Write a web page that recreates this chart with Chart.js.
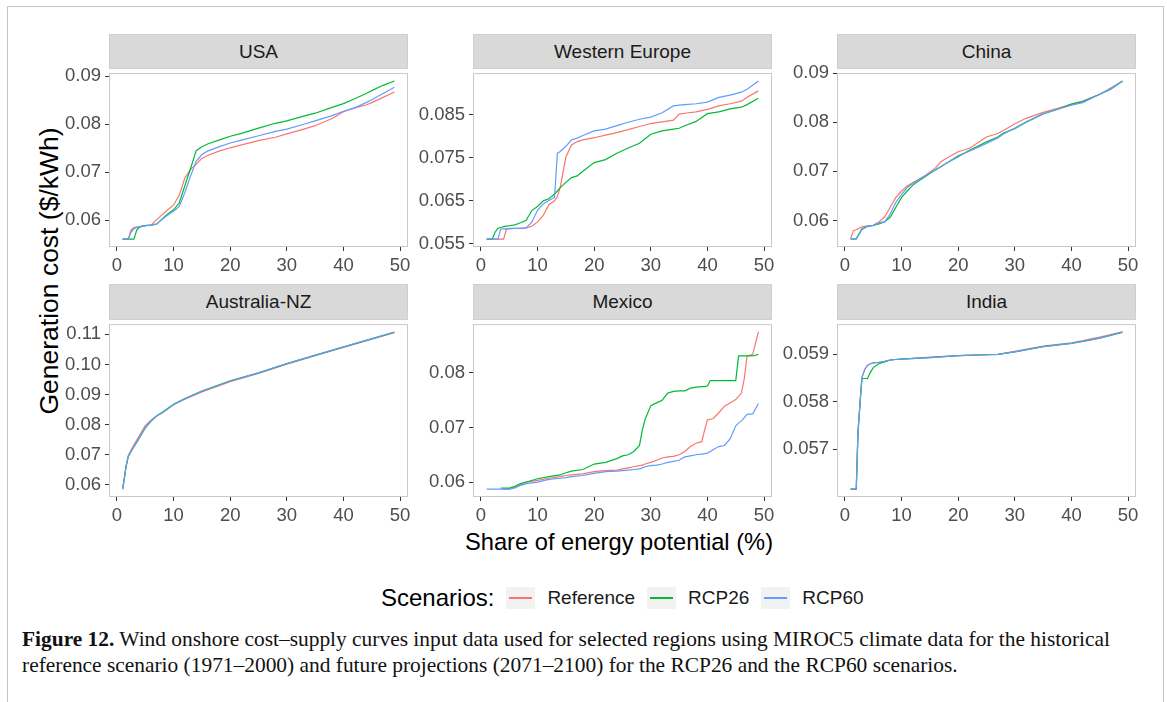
<!DOCTYPE html>
<html>
<head>
<meta charset="utf-8">
<title>Wind onshore cost-supply curves</title>
<script src="https://cdn.jsdelivr.net/npm/chart.js@4.4.0/dist/chart.umd.min.js"></script>
<style>
  html, body { margin: 0; padding: 0; background: #fff; }
  body { width: 1167px; height: 702px; position: relative; overflow: hidden;
         font-family: "Liberation Sans", Arial, sans-serif; }
  .frame { position: absolute; left: 7px; top: 6px; width: 1155px; height: 720px;
           border: 1.5px solid #c4c4c4; border-bottom: none; }
  .strip { position: absolute; background: #d9d9d9; border: 1px solid #cfcfcf; box-sizing: border-box;
           color: #1a1a1a; font-size: 19px; display: flex; align-items: center; justify-content: center; }
  canvas.panel { position: absolute; }
  #ytitle { position: absolute; left: 49px; top: 271px; transform: translate(-50%, -50%) rotate(-90deg);
            font-size: 26.5px; color: #000; white-space: nowrap; }
  #xtitle { position: absolute; left: 619px; top: 542px; transform: translate(-50%, -50%);
            font-size: 23.7px; color: #000; white-space: nowrap; }
  #legend { position: absolute; left: 381px; top: 585px; height: 26px; display: flex; align-items: center; }
  #legend .title { font-size: 24px; color: #000; margin-right: 12px; }
  #legend .key { flex: none; width: 29px; height: 22px; background-color: #f2f2f2; margin-right: 12px;
                 display: flex; align-items: center; justify-content: center; }
  #legend .line { flex: none; width: 23px; height: 2px; }
  #legend .lab { font-size: 19px; color: #1a1a1a; margin-right: 12px; }
  #caption { position: absolute; left: 22px; top: 626px; font-family: "Liberation Serif", "Times New Roman", serif;
             font-size: 21px; line-height: 26px; color: #111; white-space: nowrap; transform-origin: 0 0; }
  #caption b { font-weight: bold; }
</style>
</head>
<body>
<div class="frame"></div>
<div id="ytitle">Generation cost ($/kWh)</div>
<div id="xtitle">Share of energy potential (%)</div>
<div id="legend"></div>
<div id="caption">
  <div id="capLine1"><span id="capText1"><b>Figure 12.</b> Wind onshore cost–supply curves input data used for selected regions using MIROC5 climate data for the historical</span></div>
  <div>reference scenario (1971–2000) and future projections (2071–2100) for the RCP26 and the RCP60 scenarios.</div>
</div>
<script>
// scenarios
const scenarioNames = ['Reference', 'RCP26', 'RCP60'];
const scenarioColors = ['#F8766D', '#00BA38', '#619CFF'];
const shareTicks = [0, 10, 20, 30, 40, 50];

// USA
const usaShare = [1, 2, 2.5, 3, 3.5, 4, 5, 6, 7, 8, 9, 10, 11, 12, 13, 14, 15, 16, 18, 20, 22, 25, 28, 30, 33, 35, 38, 40, 42, 44, 45, 47, 49];
const usaReference = [.0561, .0561, .0580, .0585, .0586, .0587, .0589, .0590, .0601, .0612, .0622, .0632, .0652, .0688, .0706, .0717, .0729, .0735, .0744, .0751, .0757, .0766, .0773, .0780, .0790, .0797, .0812, .0826, .0834, .0840, .0845, .0856, .0867];
const usaRcp26 = [.0561, .0561, .0561, .0561, .0580, .0586, .0589, .0590, .0592, .0603, .0614, .0622, .0636, .0672, .0708, .0745, .0753, .0759, .0767, .0775, .0781, .0792, .0802, .0807, .0817, .0823, .0835, .0843, .0853, .0864, .0870, .0881, .0890];
const usaRcp60 = [.0561, .0561, .0575, .0583, .0585, .0587, .0589, .0590, .0592, .0602, .0611, .0619, .0629, .0658, .0692, .0723, .0737, .0744, .0753, .0761, .0767, .0776, .0785, .0790, .0800, .0807, .0818, .0827, .0834, .0845, .0851, .0864, .0877];
const usaTicks = ['0.06', '0.07', '0.08', '0.09'];

// Western Europe
const weShare = [1, 2, 2.5, 3, 3.5, 4, 4.5, 5, 6, 7, 8, 9, 10, 11, 12, 13, 13.5, 14, 15, 16, 17, 18, 20, 22, 24, 26, 28, 30, 32, 34, 35, 36, 38, 40, 42, 44, 46, 47, 49];
const weReference = [.0561, .0561, .0561, .0561, .0561, .0561, .0584, .0585, .0586, .0586, .0587, .0591, .0601, .0616, .0641, .0650, .0660, .0681, .0752, .0780, .0788, .0792, .0797, .0803, .0809, .0816, .0823, .0830, .0834, .0838, .0852, .0854, .0857, .0863, .0871, .0876, .0882, .0891, .0906];
const weRcp26 = [.0561, .0561, .0577, .0586, .0588, .0590, .0591, .0592, .0594, .0599, .0605, .0628, .0637, .0650, .0655, .0666, .0673, .0681, .0693, .0704, .0708, .0719, .0739, .0746, .0761, .0773, .0784, .0805, .0813, .0817, .0819, .0825, .0835, .0853, .0857, .0864, .0868, .0874, .0889];
const weRcp60 = [.0561, .0561, .0561, .0561, .0584, .0585, .0585, .0586, .0586, .0586, .0587, .0601, .0628, .0643, .0651, .0658, .0761, .0765, .0777, .0792, .0796, .0802, .0813, .0817, .0825, .0833, .0840, .0845, .0855, .0871, .0873, .0874, .0876, .0880, .0891, .0896, .0903, .0910, .0929];
const weTicks = ['0.055', '0.065', '0.075', '0.085'];

// China
const chinaShare = [1, 1.5, 2, 3, 4, 5, 6, 7, 8, 9, 10, 11, 12, 14, 16, 17, 18, 20, 22, 25, 27, 28, 30, 32, 35, 38, 40, 42, 45, 47, 49];
const chinaReference = [.0563, .0579, .0581, .0587, .0589, .0590, .0597, .0607, .0627, .0647, .0660, .0670, .0677, .0690, .0707, .0720, .0727, .0740, .0747, .0770, .0777, .0783, .0797, .0808, .0820, .0830, .0837, .0843, .0857, .0870, .0883];
const chinaRcp26 = [.0562, .0562, .0563, .0583, .0588, .0590, .0593, .0597, .0607, .0627, .0647, .0660, .0672, .0688, .0703, .0710, .0717, .0730, .0743, .0760, .0770, .0778, .0787, .0800, .0817, .0828, .0837, .0842, .0857, .0868, .0884];
const chinaRcp60 = [.0562, .0562, .0562, .0581, .0588, .0590, .0595, .0597, .0613, .0637, .0653, .0667, .0675, .0690, .0703, .0710, .0717, .0732, .0741, .0757, .0768, .0776, .0788, .0801, .0817, .0828, .0835, .0840, .0857, .0868, .0884];
const chinaTicks = ['0.06', '0.07', '0.08', '0.09'];

// Australia-NZ
const ausShare = [1, 1.3, 1.6, 2, 2.5, 3, 4, 5, 6, 7, 8, 10, 12, 15, 20, 25, 30, 35, 40, 45, 49];
const ausReference = [.0586, .0622, .0662, .0697, .0716, .0733, .0765, .0797, .0815, .0829, .0839, .0866, .0885, .0909, .0943, .0970, .1001, .1029, .1057, .1084, .1106];
const ausRcp26 = [.0586, .0620, .0659, .0694, .0711, .0726, .0757, .0789, .0811, .0829, .0841, .0868, .0887, .0912, .0946, .0972, .1003, .1030, .1058, .1085, .1107];
const ausRcp60 = [.0586, .0620, .0660, .0695, .0712, .0727, .0758, .0790, .0812, .0829, .0840, .0867, .0886, .0911, .0945, .0972, .1003, .1031, .1059, .1086, .1108];
const ausTicks = ['0.06', '0.07', '0.08', '0.09', '0.10', '0.11'];

// Mexico
const mexShare = [1, 3.5, 4, 5, 6, 7, 8, 10, 12, 14, 15, 16, 18, 20, 22, 24, 25, 26, 27, 28, 28.5, 29, 30, 31, 32, 33, 34, 35, 36, 37, 38, 39, 39.5, 40, 40.5, 41, 42, 43, 44, 45, 45.5, 46, 46.5, 47, 48, 49];
const mexReference = [null, null, .0587, .0587, .0591, .0595, .0600, .0603, .0607, .0610, .0612, .0613, .0615, .0619, .0621, .0622, .0624, .0626, .0628, .0630, .0631, .0633, .0636, .0640, .0644, .0646, .0647, .0650, .0656, .0665, .0671, .0674, .0695, .0714, .0715, .0716, .0727, .0739, .0745, .0751, .0757, .0763, .0789, .0831, .0834, .0875];
const mexRcp26 = [null, .0589, .0589, .0589, .0592, .0597, .0600, .0606, .0610, .0613, .0617, .0620, .0623, .0633, .0636, .0643, .0648, .0650, .0656, .0667, .0695, .0715, .0740, .0745, .0750, .0763, .0766, .0767, .0767, .0772, .0774, .0775, .0775, .0776, .0786, .0786, .0786, .0786, .0786, .0786, .0831, .0831, .0831, .0831, .0831, .0834];
const mexRcp60 = [.0587, .0587, .0587, .0587, .0589, .0594, .0597, .0600, .0605, .0607, .0608, .0610, .0612, .0616, .0619, .0620, .0621, .0622, .0623, .0624, .0626, .0628, .0630, .0631, .0633, .0636, .0638, .0640, .0646, .0648, .0650, .0651, .0652, .0653, .0656, .0659, .0665, .0667, .0679, .0703, .0708, .0712, .0718, .0724, .0725, .0744];
const mexTicks = ['0.06', '0.07', '0.08'];

// India
const indiaShare = [1, 2, 2.3, 2.7, 3, 3.5, 4, 4.5, 5, 6, 7, 8, 10, 15, 20, 25, 27, 30, 35, 40, 42, 45, 49];
const indiaReference = [.05616, .05616, .05734, .05803, .05851, .05868, .05877, .05880, .05882, .05883, .05885, .05888, .05890, .05894, .05897, .05899, .05900, .05906, .05917, .05924, .05929, .05936, .05947];
const indiaRcp26 = [.05616, .05616, .05734, .05803, .05849, .05849, .05849, .05862, .05872, .05880, .05884, .05888, .05890, .05893, .05897, .05899, .05900, .05905, .05916, .05923, .05927, .05934, .05946];
const indiaRcp60 = [.05616, .05616, .05734, .05803, .05851, .05868, .05877, .05880, .05882, .05883, .05885, .05888, .05890, .05893, .05897, .05899, .05900, .05905, .05916, .05923, .05927, .05934, .05947];
const indiaTicks = ['0.057', '0.058', '0.059'];

const panels = [
    { name: 'USA', share: usaShare, series: [usaReference, usaRcp26, usaRcp60], ticks: usaTicks, col: 0, row: 0 },
    { name: 'Western Europe', share: weShare, series: [weReference, weRcp26, weRcp60], ticks: weTicks, col: 1, row: 0 },
    { name: 'China', share: chinaShare, series: [chinaReference, chinaRcp26, chinaRcp60], ticks: chinaTicks, col: 2, row: 0 },
    { name: 'Australia-NZ', share: ausShare, series: [ausReference, ausRcp26, ausRcp60], ticks: ausTicks, col: 0, row: 1 },
    { name: 'Mexico', share: mexShare, series: [mexReference, mexRcp26, mexRcp60], ticks: mexTicks, col: 1, row: 1 },
    { name: 'India', share: indiaShare, series: [indiaReference, indiaRcp26, indiaRcp60], ticks: indiaTicks, col: 2, row: 1 }
];

// facet grid geometry
const colLeft = [109, 473, 837];
const plotWidth = 299;
const rows = [
    { strip: 34, top: 68, bottom: 247 },
    { strip: 284, top: 319, bottom: 497 }
];
const yAxisWidth = 64;
const xAxisHeight = 30;
const padTop = 10;
const padRight = 12;

// ggplot-like 5% expansion
const expand = (lo, hi) => {
    const d = (hi - lo) * 0.05;
    return [lo - d, hi + d];
};

const panelBorder = {
    id: 'panelBorder',
    afterDraw(chart) {
        const { ctx, chartArea: a } = chart;
        ctx.save();
        ctx.strokeStyle = '#c8c8c8';
        ctx.lineWidth = 1;
        ctx.strokeRect(a.left + 0.5, a.top + 0.5, a.right - a.left - 1, a.bottom - a.top - 1);
        ctx.restore();
    }
};

const tickFont = { family: '"Liberation Sans", Arial, sans-serif', size: 18.5 };

panels.forEach((p) => {
    const row = rows[p.row];
    const left = colLeft[p.col];
    const plotHeight = row.bottom - row.top;

    const strip = document.createElement('div');
    strip.className = 'strip';
    strip.style.left = left + 'px';
    strip.style.top = row.strip + 'px';
    strip.style.width = plotWidth + 'px';
    strip.style.height = (row.top - row.strip + 1) + 'px';
    strip.textContent = p.name;
    document.body.appendChild(strip);

    const canvas = document.createElement('canvas');
    canvas.className = 'panel';
    const cw = yAxisWidth + plotWidth + padRight;
    const ch = padTop + plotHeight + xAxisHeight;
    canvas.width = cw;
    canvas.height = ch;
    canvas.style.width = cw + 'px';
    canvas.style.height = ch + 'px';
    canvas.style.left = (left - yAxisWidth) + 'px';
    canvas.style.top = (row.top - padTop) + 'px';
    document.body.appendChild(canvas);

    const allY = p.series.flat().filter(v => v !== null);
    const [yMin, yMax] = expand(Math.min(...allY), Math.max(...allY));
    const [xMin, xMax] = expand(Math.min(...p.share), Math.max(...p.share));

    new Chart(canvas.getContext('2d'), {
        type: 'line',
        data: {
            datasets: p.series.map((vals, i) => ({
                label: scenarioNames[i],
                data: p.share.map((x, j) => ({ x: x, y: vals[j] })),
                borderColor: scenarioColors[i],
                borderWidth: 1.2,
                pointRadius: 0,
                tension: 0,
                fill: false,
                order: 3 - i
            }))
        },
        options: {
            responsive: false,
            animation: false,
            events: [],
            layout: { padding: { top: padTop, right: padRight, left: 0, bottom: 0 } },
            plugins: {
                legend: { display: false },
                tooltip: { enabled: false }
            },
            scales: {
                x: {
                    type: 'linear',
                    min: xMin,
                    max: xMax,
                    afterBuildTicks: (scale) => { scale.ticks = shareTicks.map(v => ({ value: v })); },
                    afterFit: (scale) => { scale.height = xAxisHeight; },
                    ticks: {
                        font: tickFont,
                        color: '#4d4d4d',
                        padding: 4,
                        maxRotation: 0,
                        callback: (value) => String(value)
                    },
                    grid: { drawOnChartArea: false, drawTicks: true, tickLength: 4, color: '#333333', tickColor: '#333333' },
                    border: { display: false }
                },
                y: {
                    type: 'linear',
                    min: yMin,
                    max: yMax,
                    afterBuildTicks: (scale) => { scale.ticks = p.ticks.map(s => ({ value: parseFloat(s) })); },
                    afterFit: (scale) => { scale.width = yAxisWidth; },
                    ticks: {
                        font: tickFont,
                        color: '#4d4d4d',
                        padding: 4,
                        callback: (value, index) => p.ticks[index]
                    },
                    grid: { drawOnChartArea: false, drawTicks: true, tickLength: 4, color: '#333333', tickColor: '#333333' },
                    border: { display: false }
                }
            }
        },
        plugins: [panelBorder]
    });
});

// legend
const legend = document.getElementById('legend');
const title = document.createElement('span');
title.className = 'title';
title.textContent = 'Scenarios:';
legend.appendChild(title);
scenarioNames.forEach((n, i) => {
    const key = document.createElement('span');
    key.className = 'key';
    const line = document.createElement('span');
    line.className = 'line';
    line.style.backgroundColor = scenarioColors[i];
    key.appendChild(line);
    const lab = document.createElement('span');
    lab.className = 'lab';
    lab.textContent = n;
    legend.appendChild(key);
    legend.appendChild(lab);
});

// fit caption width to the reference line length
const cap = document.getElementById('caption');
const w1 = document.getElementById('capText1').getBoundingClientRect().width;
cap.style.transform = `scaleX(${1088 / w1})`;
</script>
</body>
</html>
